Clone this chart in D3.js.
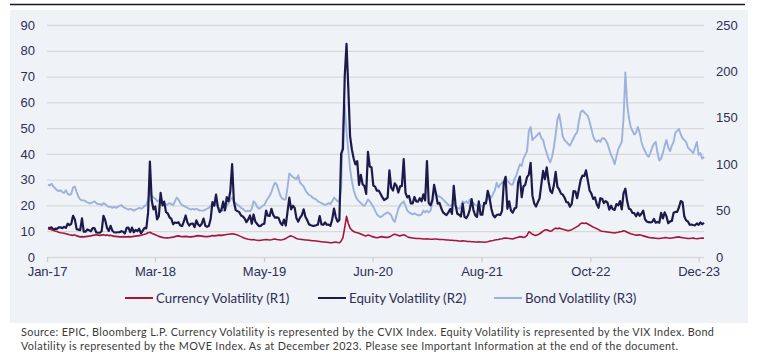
<!DOCTYPE html>
<html>
<head>
<meta charset="utf-8">
<script src="https://cdn.jsdelivr.net/npm/d3@7"></script>
<style>
  html, body { margin: 0; padding: 0; background: #fff; }
  svg { display: block; font-family: Lato, "Open Sans", sans-serif; }
</style>
</head>
<body>
<div id="chart"></div>
<script>
// Weekly readings (Fridays) starting 2017-01-06
const firstWeek = "2017-01-06";

const currencyVol = [
  // 2017
  11.0,10.8,10.6,10.3, 10.1,9.9,9.6,9.4, 9.3,9.2,9.0,8.8,8.6, 8.5,8.4,8.6,8.2, 8.0,7.8,7.9,7.8, 7.9,8.0,8.1,8.2,8.4,
  8.5,8.6,8.5,8.4, 8.5,8.6,8.4,8.5, 8.3,8.4,8.2,8.0,8.0, 7.9,7.8,7.8,7.9, 7.8,7.8,7.9,7.8, 7.9,8.0,8.1,8.2,8.3,
  // 2018
  8.4,8.6,8.8,9.0, 9.4,9.6,9.2,8.9, 8.6,8.3,8.0,7.8,7.6, 7.5,7.4,7.4,7.5, 7.6,7.7,7.9,8.1, 8.2,8.0,7.9,7.9,8.0,
  7.9,7.8,7.8,7.9, 8.0,8.2,8.3,8.2,8.1, 8.0,7.9,7.9,8.0, 8.1,8.3,8.2,8.3, 8.4,8.5,8.4,8.5,8.6, 8.7,8.8,8.9,9.0,
  // 2019
  8.9,8.7,8.5,8.2, 7.9,7.6,7.3,7.1, 6.9,6.8,6.7,6.8,6.6, 6.5,6.4,6.5,6.6, 6.7,6.8,6.7,6.6,6.7, 6.9,7.0,6.8,6.7,
  6.6,6.7,6.9,7.2, 7.6,8.0,8.2,7.9,7.6, 7.2,7.0,6.9,6.8, 6.7,6.6,6.6,6.5, 6.4,6.3,6.3,6.2,6.1, 6.0,5.9,5.8,5.8,
  // 2020
  5.7,5.6,5.5,5.5,5.7, 5.8,5.6,5.5,6.2, 7.5,11.5,15.8,13.0, 11.2,10.4,9.9,9.6, 9.4,9.2,8.9,8.6,8.3, 8.2,8.5,8.3,8.0,
  7.8,7.6,7.5,7.6,7.8, 7.9,7.7,7.6,7.6, 7.8,8.2,8.6,8.8, 8.6,8.3,8.2,8.4,8.6, 8.3,7.9,7.6,7.5, 7.4,7.3,7.2,7.2,
  // 2021
  7.2,7.1,7.0,7.0,7.1, 7.0,6.9,6.9,7.0, 7.0,6.9,6.8,6.8, 6.8,6.7,6.6,6.6,6.5, 6.5,6.4,6.4,6.3, 6.2,6.1,6.3,6.2,
  6.1,6.0,6.0,5.9,5.9, 5.8,5.8,5.9,5.8, 5.8,5.7,5.8,5.9, 6.1,6.3,6.4,6.6,6.7, 6.8,7.0,7.1,7.3, 7.4,7.3,7.2,7.1,7.0,
  // 2022
  7.3,7.5,7.7,7.9, 7.8,7.6,7.8,8.4, 9.8,9.4,8.8,8.5, 8.4,8.6,9.0,9.5,10.0, 10.5,10.6,10.3,10.0, 10.2,10.8,11.2,11.0,
  11.2,11.0,10.8,10.6,10.4, 10.2,10.4,10.6,11.0, 11.4,11.8,12.2,13.0,13.2, 13.0,13.2,12.8,12.4, 12.0,11.6,11.3,11.0, 10.6,10.2,10.0,9.9,9.8,
  // 2023
  9.7,9.6,9.5,9.4, 9.3,9.5,9.6,9.8, 9.9,10.2,10.0,9.6,9.3, 9.0,8.8,8.6,8.5, 8.5,8.6,8.4,8.2, 8.0,7.8,7.6,7.5,7.4,
  7.4,7.3,7.2,7.2, 7.3,7.4,7.5,7.5, 7.4,7.3,7.4,7.5,7.6, 7.7,7.8,7.6,7.5, 7.4,7.3,7.2,7.2, 7.3,7.4,7.2,7.1,7.2,
  // 2024
  7.3,7.4,7.3
];

const equityVol = [
  // 2017
  11.3,11.2,11.5,10.6, 11.0,10.9,11.5,11.5, 11.2,11.7,11.3,12.9,12.4, 12.9,16.0,14.6,10.8, 10.6,10.4,15.0,9.8, 9.8,10.7,10.4,10.0,11.2,
  11.2,9.5,9.4,9.4, 10.0,16.0,14.3,11.3, 10.1,12.1,10.2,9.6,9.5, 9.6,9.6,10.0,9.8, 9.1,11.3,11.4,9.7, 11.4,9.6,10.5,10.0,11.0,
  // 2018
  9.2,10.2,11.3,11.1, 17.3,37.0,22.0,18.5, 19.6,14.6,15.8,24.9,20.0, 21.5,17.4,16.9,15.4, 14.8,12.7,13.4,13.2, 13.5,12.2,12.0,13.8,16.1,
  13.4,12.2,12.9,13.0, 11.6,14.2,12.6,12.0,12.9, 14.9,12.1,11.7,12.1, 14.8,21.3,19.9,24.2, 19.5,17.4,18.1,21.5,18.1, 23.2,21.6,25.6,36.0,
  // 2019
  21.4,18.2,17.8,17.4, 16.1,15.7,14.9,13.5, 14.6,16.1,12.9,16.5,13.7, 12.8,12.0,12.1,12.7, 12.9,18.0,16.0,15.9,18.7, 16.3,15.3,15.4,15.1,
  13.3,12.4,14.5,12.2, 17.6,23.0,18.5,19.9,19.0, 15.0,13.7,15.3,16.2, 18.5,15.6,14.3,12.7, 12.3,12.1,12.1,12.3,12.6, 15.9,12.6,12.5,13.4,
  // 2020
  12.5,12.6,12.1,14.6,18.8, 15.5,13.7,14.4,40.1, 41.9,70.0,82.7,65.5, 46.8,41.7,38.2,35.9, 37.2,28.0,31.9,28.2,27.5, 24.5,40.8,35.1,34.7,
  27.7,27.3,25.7,25.8,24.5, 23.2,22.1,22.5,23.0, 33.6,26.9,25.8,28.6, 27.6,25.0,27.4,27.6,38.0, 24.9,23.1,23.7,20.8, 20.8,23.3,21.6,21.5,
  // 2021
  22.8,21.6,24.3,21.9,37.2, 20.9,20.0,22.1,28.0, 24.7,20.7,21.0,18.9, 17.3,16.7,16.3,17.3,18.6, 16.7,27.6,20.2,16.8, 16.4,15.7,20.7,15.6,
  15.1,16.2,18.5,22.5,18.2, 16.2,15.5,21.6,16.4, 16.4,21.0,20.8,25.7, 23.1,18.8,16.3,15.4,16.3, 16.5,16.3,17.9,28.6, 31.1,18.7,21.6,18.0,17.2,
  // 2022
  18.8,19.2,28.9,31.2, 23.2,27.4,28.0,31.0, 32.0,36.5,23.9,20.8, 19.6,21.2,22.7,28.2,33.4, 30.2,34.8,29.4,25.7, 24.8,27.8,33.0,27.2,
  26.2,24.6,24.2,23.0,21.3, 21.2,19.5,20.6,25.6, 25.5,22.8,26.3,29.9,31.6, 31.4,33.6,29.7,25.8, 24.6,22.5,23.1,20.5, 19.1,22.8,22.6,20.9,21.7,
  // 2023
  21.1,18.4,19.9,18.5, 18.3,20.5,20.0,21.7, 18.5,24.8,26.5,21.7,18.7, 18.4,17.1,17.0,15.8, 17.2,16.0,16.8,18.0, 14.6,13.8,13.5,13.4,13.6,
  14.8,13.3,13.6,13.3, 17.1,15.0,17.3,15.7, 13.1,13.8,14.0,17.2,17.5, 17.5,19.3,21.7,21.3, 15.7,14.2,13.8,12.5, 12.6,12.4,12.3,13.0,12.5,
  // 2024
  13.4,12.7,13.3
];

const bondVol = [
  // 2017
  78,77,79,76, 74,72,71,72, 70,69,72,68,67, 68,75,76,70, 65,62,61,61, 60,59,58,58,59,
  60,58,57,57, 56,58,57,55, 54,54,53,54,53, 54,55,56,54, 53,52,51,52, 51,50,51,52,53,
  // 2018
  52,53,55,56, 62,70,66,64, 63,60,61,62,60, 58,56,57,58, 57,56,60,64, 62,58,56,55,54,
  53,52,51,52, 51,52,51,50,50, 50,51,52,53, 55,58,56,57, 54,52,50,50,51, 55,58,62,64,
  // 2019
  60,58,56,55, 53,52,50,49, 50,49,52,60,58, 54,52,53,55, 56,60,63,66,70, 76,80,78,72,
  66,63,62,62, 75,90,88,86,85, 84,88,80,78, 76,72,69,67, 66,64,63,62,60, 59,58,57,56,
  // 2020
  57,58,57,60,64, 62,60,60,75, 140,164,135,115, 95,82,72,66, 62,60,58,56,55, 58,62,60,57,
  54,50,46,44,43, 44,46,47,48, 47,45,40,38, 45,52,56,58,60, 55,50,48,47, 46,47,46,45,
  // 2021
  45,46,50,48,50, 48,50,58,70, 68,66,65,64, 62,60,58,56,55, 56,58,55,53, 52,54,60,58,
  60,58,62,60,58, 56,55,57,56, 54,56,60,62, 66,64,68,72,80, 75,78,80,82, 86,82,80,78,78,
  // 2022
  84,88,94,100, 98,106,110,114, 136,140,126,128, 130,132,134,128,126, 118,112,106,102, 108,118,132,148,
  154,142,130,126,124, 122,120,124,128, 132,134,146,156,158, 156,154,152,146, 138,130,126,124, 126,124,128,128,126,
  // 2023
  122,116,110,106, 100,108,116,120, 124,150,199,165,150, 140,136,132,134, 140,134,124,118, 114,110,108,112,118,
  122,124,112,104, 106,112,120,126, 118,114,120,124,134, 136,138,132,128, 126,124,118,116, 114,112,118,124,110,
  // 2024
  112,106,108
];

const leftTicks  = [0, 10, 20, 30, 40, 50, 60, 70, 80, 90];
const rightTicks = [0, 50, 100, 150, 200, 250];
const tickDates  = ["2017-01-02", "2018-03-01", "2019-05-02", "2020-06-30", "2021-08-31", "2022-10-31", "2023-12-29"];
const tickLabels = ["Jan-17", "Mar-18", "May-19", "Jun-20", "Aug-21", "Oct-22", "Dec-23"];

const seriesNames  = ["Currency Volatility (R1)", "Equity Volatility (R2)", "Bond Volatility (R3)"];
const sourceLines = [
  "Source: EPIC, Bloomberg L.P. Currency Volatility is represented by the CVIX Index. Equity Volatility is represented by the VIX Index. Bond",
  "Volatility is represented by the MOVE Index. As at December 2023. Please see Important Information at the end of the document."
];

const W = 771, H = 354;
const parse = d3.utcParse("%Y-%m-%d");
const start = parse(firstWeek);
const weekDate = i => d3.utcDay.offset(start, i * 7);

const svg = d3.select("#chart").append("svg")
  .attr("width", W).attr("height", H);

// panel + top rule
svg.append("rect").attr("x", 10).attr("y", 10).attr("width", 738).attr("height", 313).attr("fill", "#eff2f7");
svg.append("line").attr("x1", 10).attr("x2", 745).attr("y1", 4.5).attr("y2", 4.5)
  .attr("stroke", "#16163f").attr("stroke-width", 1.5);

const x = d3.scaleUtc().domain([parse("2017-01-02"), parse("2024-01-19")]).range([47, 704]);
const yL = d3.scaleLinear().domain([0, 90]).range([257, 25]);
const yR = d3.scaleLinear().domain([0, 250]).range([257, 25]);

const labelColor = "#2d2f55";

// gridlines + left axis
const gL = svg.append("g").attr("transform", "translate(47,0)")
  .call(d3.axisLeft(yL).tickValues(leftTicks).tickSize(-657).tickPadding(12));
gL.select(".domain").remove();
gL.selectAll(".tick line").attr("stroke", "#d9d9d9").attr("stroke-width", 1.3);
gL.selectAll("text").attr("font-size", 13).attr("fill", labelColor);

const gR = svg.append("g").attr("transform", "translate(704,0)")
  .call(d3.axisRight(yR).tickValues(rightTicks).tickSize(0).tickPadding(12));
gR.select(".domain").remove();
gR.selectAll("text").attr("font-size", 13).attr("fill", labelColor);

const gX = svg.append("g").attr("transform", "translate(0,257)")
  .call(d3.axisBottom(x).tickValues(tickDates.map(parse)).tickSize(5).tickPadding(5)
    .tickFormat((d, i) => tickLabels[i]));
gX.select(".domain").remove();
gX.selectAll(".tick line").attr("stroke", "#cfcfcf").attr("stroke-width", 1.3);
gX.selectAll("text").attr("font-size", 13).attr("fill", labelColor);

// lines
const lineL = d3.line().x((d, i) => x(weekDate(i))).y(d => yL(d));
const lineR = d3.line().x((d, i) => x(weekDate(i))).y(d => yR(d));

const colors = ["#a3173d", "#1b1a4b", "#9cb2dc"];

svg.append("path").datum(bondVol).attr("d", lineR)
  .attr("fill", "none").attr("stroke", colors[2]).attr("stroke-width", 1.9).attr("stroke-linejoin", "round");
svg.append("path").datum(equityVol).attr("d", lineL)
  .attr("fill", "none").attr("stroke", colors[1]).attr("stroke-width", 2.2).attr("stroke-linejoin", "round");
svg.append("path").datum(currencyVol).attr("d", lineL)
  .attr("fill", "none").attr("stroke", colors[0]).attr("stroke-width", 1.6).attr("stroke-linejoin", "round");

// legend
const legendX = [125, 318, 494];
const leg = svg.append("g").selectAll("g").data(seriesNames).enter().append("g")
  .attr("transform", (d, i) => `translate(${legendX[i]},298)`);
leg.append("line").attr("x1", 0).attr("x2", 28).attr("y1", 0).attr("y2", 0)
  .attr("stroke", (d, i) => colors[i]).attr("stroke-width", 2);
leg.append("text").attr("x", 31).attr("dy", "0.35em")
  .attr("font-size", 13.3).attr("fill", labelColor).text(d => d);

// source note
svg.append("g").selectAll("text").data(sourceLines).enter().append("text")
  .attr("x", 21).attr("y", (d, i) => 336 + i * 13.5)
  .attr("font-size", 10.8).attr("letter-spacing", 0.36)
  .attr("fill", "#3a3a3a").text(d => d);
</script>
</body>
</html>
